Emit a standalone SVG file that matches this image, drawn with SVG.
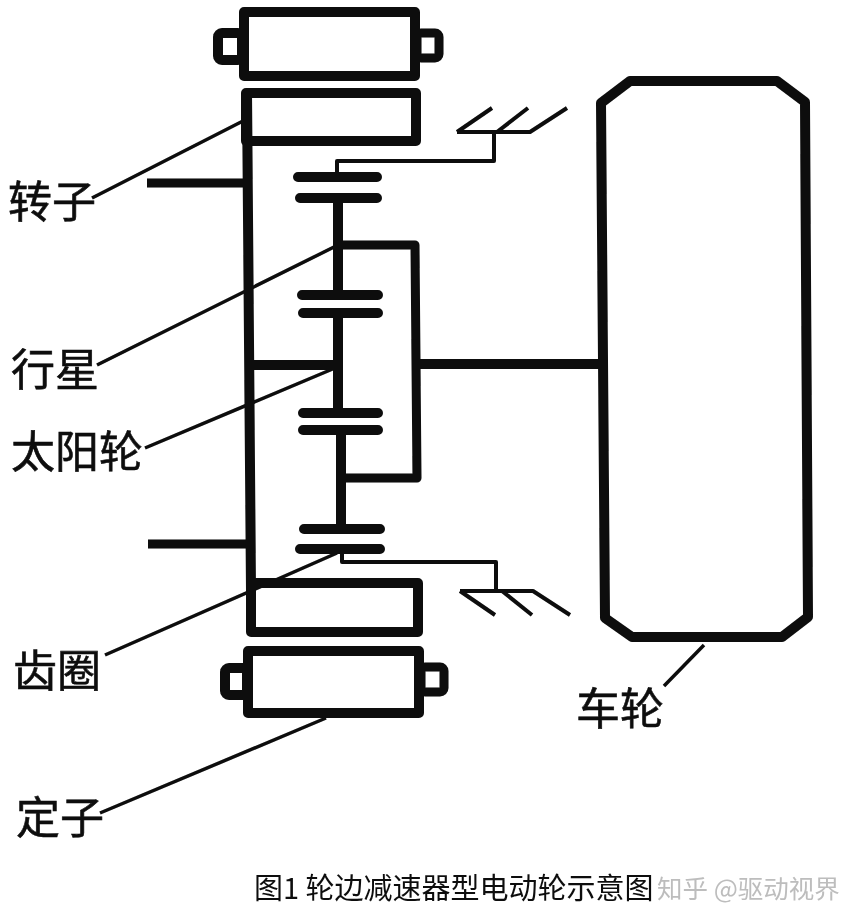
<svg xmlns="http://www.w3.org/2000/svg" width="863" height="924" viewBox="0 0 863 924">
<defs><filter id="soft" x="-5%" y="-5%" width="110%" height="110%"><feGaussianBlur stdDeviation="0.7"/></filter></defs>
<style>
.k{fill:none;stroke:#0a0a0a;stroke-linejoin:round}
.b{stroke-width:10}
.m{stroke-width:9}
.g{stroke-width:10;stroke-linecap:round}
.t{stroke-width:4}
.l{stroke-width:3.5}
text{font-family:"Noto Sans CJK SC","Noto Sans CJK JP",sans-serif;fill:#111}
.lb{font-size:44px;stroke:#111;stroke-width:.6}
.cap{font-size:29px}
.wm{font-size:25.5px;fill:#bdbdbd}
</style>
<rect width="863" height="924" fill="#fff"/>
<g id="diagram" filter="url(#soft)">
<g id="connectors">
<path class="k l" d="M92 198L243 121M97 365L338 245M145 448L335 368M105 655L337 553M100 813L326 718M664 686L704 645"/>
<path class="k m" d="M147 183H246M148 544H249"/>
<path class="k b" d="M247 92L251 590M249 365H338M338 198V295M338 313V413M341 429V529M418 364H603"/>
<path class="k m" d="M338 245H415L417 478H341"/>
<path class="k t" d="M337 172V161H494V132M457 132H530L567 108M457 132L492 108M497 132L528 108"/>
<path class="k t" d="M342 552V562H496V591M460 591H533L570 615M460 591L495 615M502 591L532 615"/>
</g>
<g id="stator-top"><rect class="k b" x="244" y="12" width="171" height="64"/><rect class="k b" x="218" y="33" width="24" height="27" rx="4"/><rect class="k m" x="417" y="33" width="22" height="25" rx="4"/></g>
<g id="rotor-top"><rect class="k b" x="246" y="93" width="170" height="48"/></g>
<g id="gear-1"><path class="k g" d="M298 177H377M300 198H377"/></g>
<g id="gear-2"><path class="k g" d="M302 295H378M303 313H378"/></g>
<g id="gear-3"><path class="k g" d="M303 413H378M303 430H378"/></g>
<g id="gear-4"><path class="k g" d="M304 529H380M300 549H380"/></g>
<g id="rotor-bottom"><rect class="k b" x="251" y="583" width="167" height="49"/></g>
<g id="stator-bottom"><rect class="k b" x="248" y="651" width="171" height="62"/><rect class="k b" x="225" y="668" width="22" height="27" rx="4"/><rect class="k m" x="421" y="667" width="23" height="25" rx="4"/></g>
<g id="wheel"><path class="k b" d="M630 81H777L805 102L808 617L782 637H632L605 618L601 103Z"/></g>
<g id="labels">
<text class="lb" x="8" y="218">转子</text>
<text class="lb" x="11" y="386">行星</text>
<text class="lb" x="11" y="468">太阳轮</text>
<text class="lb" x="13" y="687">齿圈</text>
<text class="lb" x="16" y="834">定子</text>
<text class="lb" x="576" y="725">车轮</text>
<text class="cap" x="254" y="899">图1 轮边减速器型电动轮示意图</text>
<text class="wm" x="657" y="898">知乎 @驱动视界</text>
</g>
</g>
</svg>
